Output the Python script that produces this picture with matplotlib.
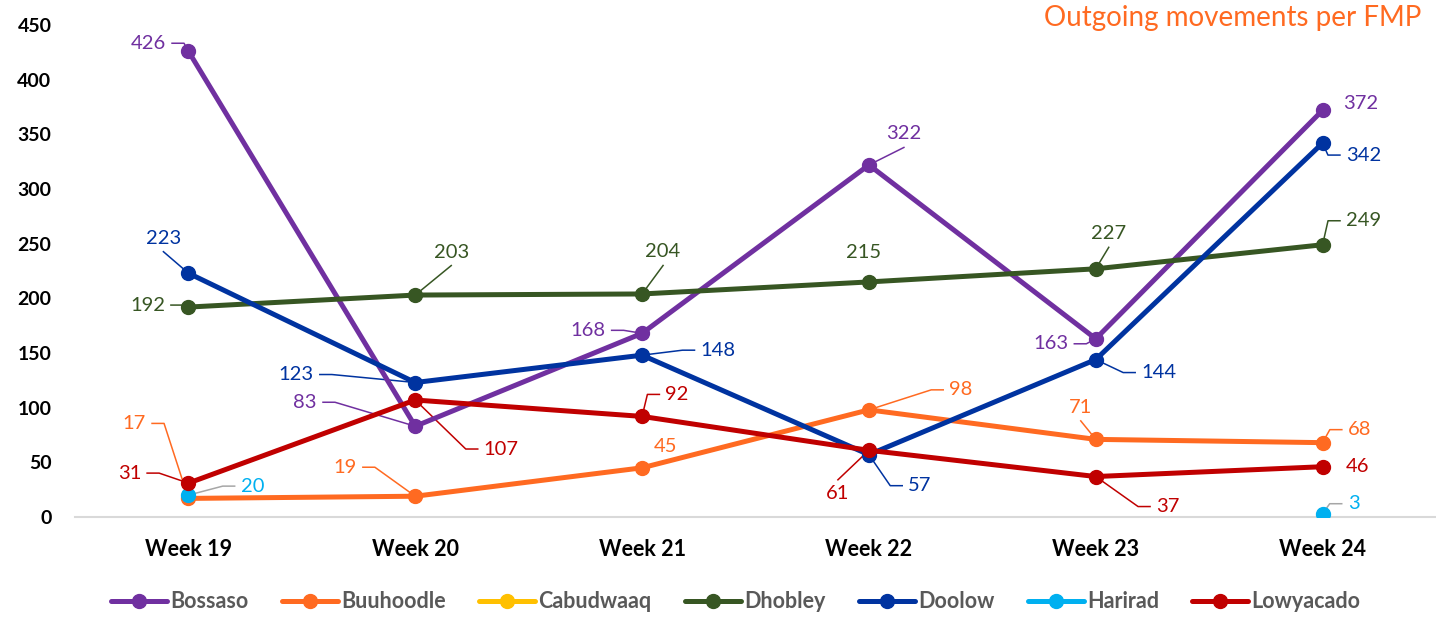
import numpy as np
import matplotlib
matplotlib.use('Agg')
import matplotlib.pyplot as plt
from matplotlib.lines import Line2D
from matplotlib.transforms import IdentityTransform

plt.rcParams['font.family'] = ['Lato', 'DejaVu Sans']

weeks = ['Week 19', 'Week 20', 'Week 21', 'Week 22', 'Week 23', 'Week 24']
names = ['Bossaso', 'Buuhoodle', 'Cabudwaaq', 'Dhobley', 'Doolow', 'Harirad', 'Lowyacado']

bossaso = [426, 83, 168, 322, 163, 372]
buuhoodle = [17, 19, 45, 98, 71, 68]
cabudwaaq = [np.nan] * 6
dhobley = [192, 203, 204, 215, 227, 249]
doolow = [223, 123, 148, 57, 144, 342]
harirad = [20, np.nan, np.nan, np.nan, np.nan, 3]
lowyacado = [31, 107, 92, 61, 37, 46]

series = [bossaso, buuhoodle, cabudwaaq, dhobley, doolow, harirad, lowyacado]
colors = ['#7030A0', '#FF6A21', '#FFC000', '#375623', '#0033A0', '#00B0F0', '#C00000']

# label offsets in pixels (dx right, dy down) and leader type
label_layout = {
  'Bossaso': [(-40, -8, 'h'), (-110, -24, 'h'), (-54, -3, 'h'), (35, -31, 'd'), (-45, 5, 'h'), (38, -7, None)],
  'Buuhoodle': [(-54, -75, 'h'), (-70, -29, 'h'), (23, -21, None), (92, -20, 'h'), (-15, -32, 'd'), (37, -13, 'h')],
  'Dhobley': [(-41, -2, 'h'), (36, -43, 'd'), (21, -42, 'd'), (-5, -29, None), (13, -35, 'd'), (41, -24, 'h')],
  'Doolow': [(-25, -35, 'd'), (-119, -8, 'h'), (76, -5, 'h'), (51, 31, 'h'), (63, 13, 'h'), (41, 12, 'h')],
  'Harirad': [(64, -9, 'h'), None, None, None, None, (31, -10, 'h')],
  'Lowyacado': [(-59, -10, 'h'), (86, 49, 'h'), (35, -22, 'h'), (-31, 43, 'd'), (72, 30, 'h'), (35, 0, None)],
}

W, H = 1436, 620
fig = plt.figure(figsize=(W / 100, H / 100), dpi=100)
ax = fig.add_axes([75 / W, 103 / H, (W - 75) / W, 492 / H])

x = np.arange(len(weeks))
for name, vals, c in zip(names, series, colors):
  ax.plot(x, vals, color=c, lw=3.6, marker='o', ms=10, label=name, zorder=3, solid_capstyle='round')

ax.set_xlim(-0.5, len(weeks) - 0.5)
ax.set_ylim(0, 450)
ax.set_yticks(range(0, 451, 50))
ax.set_xticks(x)
ax.set_xticklabels(weeks)
for side in ['left', 'right', 'top']:
  ax.spines[side].set_visible(False)
ax.spines['bottom'].set_color('#D9D9D9')
ax.spines['bottom'].set_linewidth(1.5)
ax.tick_params(axis='both', length=0)
ax.tick_params(axis='y', pad=17, labelsize=14)
ax.tick_params(axis='x', pad=16, labelsize=15.5)
for t in ax.get_xticklabels() + ax.get_yticklabels():
  t.set_fontweight('bold')

fig.text(1421 / W, 1 - 18 / H, 'Outgoing movements per FMP', color='#FF6A21',
         fontsize=20, ha='right', va='center')

texts = []
for name, vals, c in zip(names, series, colors):
  if name not in label_layout:
    continue
  lead_color = '#A6A6A6' if name == 'Harirad' else c
  for i, spec in enumerate(label_layout[name]):
    if spec is None:
      continue
    dx, dy, kind = spec
    t = ax.annotate(str(vals[i]), (x[i], vals[i]), xytext=(dx, -dy), textcoords='offset pixels',
                    ha='center', va='center', fontsize=14.5, color=c, zorder=5)
    texts.append((t, x[i], vals[i], kind, lead_color))

leg = ax.legend(loc='center', bbox_to_anchor=(736 / W, 1 - 602 / H), bbox_transform=fig.transFigure,
                ncol=7, frameon=False, handlelength=2.6, handletextpad=0.15, columnspacing=1.55,
                prop={'size': 15.5, 'weight': 'bold'})
for t in leg.get_texts():
  t.set_color('#595959')

# leader lines, drawn in pixel space
fig.canvas.draw()
renderer = fig.canvas.get_renderer()
for t, xi, yi, kind, lc in texts:
  if kind is None:
    continue
  bb = t.get_window_extent(renderer)
  px, py = ax.transData.transform((xi, yi))
  cx, cy = (bb.x0 + bb.x1) / 2, (bb.y0 + bb.y1) / 2
  if kind == 'h':
    if px > cx:
      sx = bb.x1 + 6
      xs, ys = [sx, sx + 12, px], [cy, cy, py]
    else:
      sx = bb.x0 - 6
      xs, ys = [sx, sx - 12, px], [cy, cy, py]
  else:
    sy = bb.y0 - 5 if py < cy else bb.y1 + 5
    xs, ys = [cx, px], [sy, py]
  ax.add_artist(Line2D(xs, ys, transform=IdentityTransform(), color=lc, lw=1.1, zorder=2, clip_on=False))

fig.savefig('out.png', dpi=100)
plt.close()
